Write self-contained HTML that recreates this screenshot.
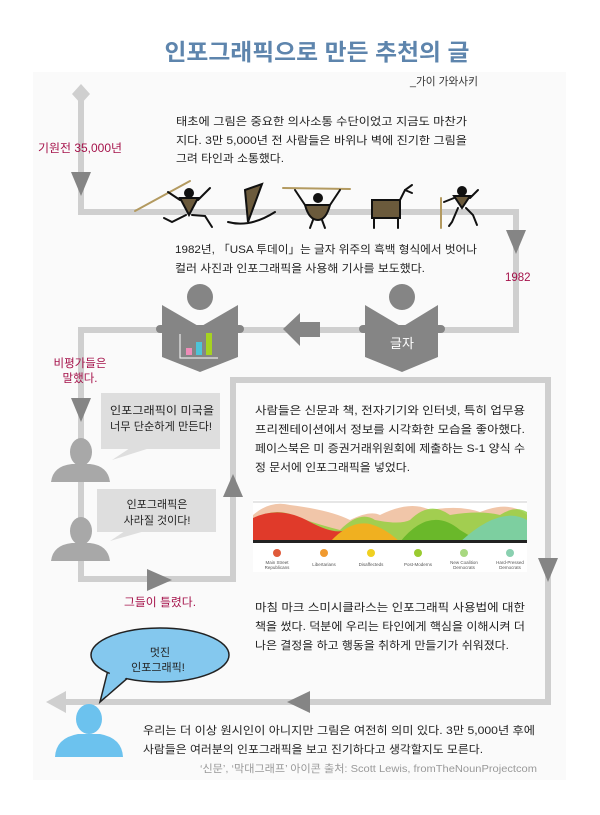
<!DOCTYPE html>
<html><head><meta charset="utf-8"><style>
html,body{margin:0;padding:0;background:#fff;}
svg{display:block;}
text{font-family:"Liberation Sans","Noto Sans CJK KR",sans-serif;}
</style></head><body>
<svg width="600" height="815" viewBox="0 0 600 815" xmlns="http://www.w3.org/2000/svg">
<rect x="33" y="72" width="533" height="708" fill="#fafafa"/>
<text x="317" y="60" text-anchor="middle" font-size="23" font-weight="bold" fill="#5e85ad" textLength="305" lengthAdjust="spacingAndGlyphs">인포그래픽으로 만든 추천의 글</text>
<text x="410" y="85" font-size="11" fill="#333" textLength="68" lengthAdjust="spacingAndGlyphs">_가이 가와사키</text>

<g fill="none" stroke="#cfcfcf" stroke-width="6">
<polyline points="81,92 81,212 516,212 516,330 81,330 81,579 233,579 233,380 548,380 548,702 52,702"/>
</g>
<polygon points="81,84 90,94 81,104 72,94" fill="#cfcfcf"/>
<g fill="#858585">
<polygon points="71,172 91,172 81,196"/>
<polygon points="506,230 526,230 516,254"/>
<polygon points="71,398 91,398 81,422"/>
<polygon points="147,569 147,591 172,580"/>
<polygon points="223,497 243,497 233,474"/>
<polygon points="538,558 558,558 548,582"/>
<polygon points="310,691 310,713 287,702"/>
</g>
<polygon points="66,691 66,713 46,702" fill="#cfcfcf"/>
<polygon points="283,329 300,313 300,322 320,322 320,337 300,337 300,346" fill="#858585"/>

<g font-size="11" fill="#222">
<text x="176" y="125" textLength="291" lengthAdjust="spacingAndGlyphs">태초에 그림은 중요한 의사소통 수단이었고 지금도 마찬가</text>
<text x="176" y="144" textLength="291" lengthAdjust="spacingAndGlyphs">지다. 3만 5,000년 전 사람들은 바위나 벽에 진기한 그림을</text>
<text x="176" y="162" textLength="108" lengthAdjust="spacingAndGlyphs">그려 타인과 소통했다.</text>
<text x="175" y="253" textLength="302" lengthAdjust="spacingAndGlyphs">1982년, 「USA 투데이」는 글자 위주의 흑백 형식에서 벗어나</text>
<text x="175" y="272" textLength="250" lengthAdjust="spacingAndGlyphs">컬러 사진과 인포그래픽을 사용해 기사를 보도했다.</text>
<text x="255" y="414" textLength="270" lengthAdjust="spacingAndGlyphs">사람들은 신문과 책, 전자기기와 인터넷, 특히 업무용</text>
<text x="255" y="433" textLength="270" lengthAdjust="spacingAndGlyphs">프리젠테이션에서 정보를 시각화한 모습을 좋아했다.</text>
<text x="255" y="452" textLength="270" lengthAdjust="spacingAndGlyphs">페이스북은 미 증권거래위원회에 제출하는 S-1 양식 수</text>
<text x="255" y="471" textLength="155" lengthAdjust="spacingAndGlyphs">정 문서에 인포그래픽을 넣었다.</text>
<text x="255" y="611" textLength="270" lengthAdjust="spacingAndGlyphs">마침 마크 스미시클라스는 인포그래픽 사용법에 대한</text>
<text x="255" y="630" textLength="270" lengthAdjust="spacingAndGlyphs">책을 썼다. 덕분에 우리는 타인에게 핵심을 이해시켜 더</text>
<text x="255" y="649" textLength="254" lengthAdjust="spacingAndGlyphs">나은 결정을 하고 행동을 취하게 만들기가 쉬워졌다.</text>
<text x="143" y="734" textLength="392" lengthAdjust="spacingAndGlyphs">우리는 더 이상 원시인이 아니지만 그림은 여전히 의미 있다. 3만 5,000년 후에</text>
<text x="143" y="753" textLength="340" lengthAdjust="spacingAndGlyphs">사람들은 여러분의 인포그래픽을 보고 진기하다고 생각할지도 모른다.</text>
</g>
<text x="200" y="772" font-size="10.5" fill="#999" textLength="337" lengthAdjust="spacingAndGlyphs">‘신문’, ‘막대그래프’ 아이콘 출처: Scott Lewis, fromTheNounProjectcom</text>

<g font-size="11.5" fill="#a5124a">
<text x="38" y="152" textLength="84" lengthAdjust="spacingAndGlyphs">기원전 35,000년</text>
<text x="505" y="281">1982</text>
<text x="80" y="367" text-anchor="middle">비평가들은</text>
<text x="80" y="382" text-anchor="middle">말했다.</text>
<text x="124" y="606" textLength="72" lengthAdjust="spacingAndGlyphs">그들이 틀렸다.</text>
</g>

<!-- figures -->
<g fill="#6b5a3c" stroke="#111" stroke-width="2" stroke-linecap="round">
<line x1="135" y1="211" x2="190" y2="181" stroke="#b39a60" stroke-width="2"/>
<polygon points="180,198 198,198 189,215" />
<circle cx="189" cy="193" r="4" fill="#111"/>
<polyline points="180,200 168,192" fill="none"/><polyline points="198,200 210,188" fill="none"/>
<polyline points="186,215 172,222 164,218" fill="none"/><polyline points="192,215 205,216 212,227" fill="none"/>
<polygon points="245,190 262,184 248,222"/>
<path d="M228,222 Q250,228 275,212" fill="none"/>
<line x1="283" y1="188" x2="350" y2="189" stroke="#b39a60" stroke-width="2"/>
<path d="M305,205 L330,205 Q326,220 318,220 Q309,220 305,205Z"/>
<circle cx="318" cy="198" r="4" fill="#111"/>
<polyline points="305,205 295,190" fill="none"/><polyline points="330,205 340,190" fill="none"/>
<polyline points="313,220 310,228" fill="none"/><polyline points="322,220 325,228" fill="none"/>
<rect x="372" y="200" width="28" height="18"/>
<polyline points="374,218 374,228" fill="none"/><polyline points="398,218 398,228" fill="none"/>
<polyline points="400,200 405,190 412,185" fill="none"/><polyline points="405,190 412,193" fill="none"/>
<line x1="441" y1="198" x2="441" y2="228" stroke="#b39a60" stroke-width="2"/>
<polygon points="454,196 470,196 462,208"/>
<circle cx="462" cy="191" r="4" fill="#111"/>
<polyline points="454,198 444,202" fill="none"/><polyline points="470,198 478,190" fill="none"/>
<polyline points="458,208 452,222 449,226" fill="none"/><polyline points="466,208 473,215 477,225" fill="none"/>
</g>

<!-- books -->
<g fill="#858585">
<circle cx="200" cy="297" r="13"/>
<polygon points="162,305 200,327 238,305 238,357 200,372 162,357"/>
<rect x="156" y="325" width="88" height="8" rx="4"/>
<circle cx="402" cy="297" r="13"/>
<polygon points="365,305 402,327 438,305 438,357 402,372 365,357"/>
<rect x="359" y="325" width="86" height="8" rx="4"/>
</g>
<polyline points="180,334 180,358 218,358" fill="none" stroke="#fff" stroke-width="1"/>
<rect x="186" y="348" width="6" height="7" fill="#f08cb8"/>
<rect x="196" y="342" width="6" height="13" fill="#4ec4d8"/>
<rect x="206" y="333" width="6" height="22" fill="#a6d321"/>
<text x="402" y="348" text-anchor="middle" font-size="13" fill="#fff">글자</text>

<!-- speech bubbles grey -->
<g fill="#dedede">
<rect x="101" y="393" width="119" height="56"/>
<polygon points="130,448 150,448 112,460"/>
<rect x="97" y="489" width="119" height="43"/>
<polygon points="125,531 145,531 110,541"/>
</g>
<g font-size="11" fill="#222">
<text x="110" y="414" textLength="104" lengthAdjust="spacingAndGlyphs">인포그래픽이 미국을</text>
<text x="110" y="430" textLength="102" lengthAdjust="spacingAndGlyphs">너무 단순하게 만든다!</text>
<text x="157" y="508" text-anchor="middle">인포그래픽은</text>
<text x="157" y="524" text-anchor="middle">사라질 것이다!</text>
</g>
<!-- grey persons -->
<g fill="#a8a8a8">
<ellipse cx="81" cy="452" rx="11" ry="14"/>
<path d="M51,482 Q53,466 72,464 L90,464 Q108,466 110,482Z"/>
<ellipse cx="81" cy="531" rx="11" ry="14"/>
<path d="M51,561 Q53,545 72,543 L90,543 Q108,545 110,561Z"/>
</g>

<!-- chart -->
<rect x="253" y="500" width="274" height="72" fill="#fff"/>
<line x1="253" y1="502" x2="527" y2="502" stroke="#ccc"/>
<path d="M253,542 L253,515 Q270,500 290,505 Q330,510 350,520 Q370,510 380,515 Q410,500 430,510 Q460,505 480,512 Q510,500 527,515 L527,542Z" fill="#e8a070" opacity="0.6"/>
<path d="M253,542 L253,520 Q275,505 300,518 Q320,525 340,530 Q360,510 375,520 Q400,525 410,520 Q430,500 450,515 Q480,510 500,515 Q515,505 527,512 L527,542Z" fill="#8fcf3a" opacity="0.8"/>
<path d="M253,542 L253,518 Q280,505 310,522 Q335,535 345,530 L360,542Z" fill="#e03a2a"/>
<path d="M330,542 Q350,520 370,524 Q385,528 400,542Z" fill="#f0b020"/>
<path d="M400,542 Q430,505 460,530 L480,542Z" fill="#6ab82a"/>
<path d="M460,542 Q500,505 527,520 L527,542Z" fill="#7dcfa0"/>
<rect x="253" y="540" width="274" height="3" fill="#222"/>
<g>
<circle cx="277" cy="553" r="4" fill="#e05a3a"/>
<circle cx="324" cy="553" r="4" fill="#f09a30"/>
<circle cx="371" cy="553" r="4" fill="#f0d020"/>
<circle cx="418" cy="553" r="4" fill="#9acb30"/>
<circle cx="464" cy="553" r="4" fill="#a8d880"/>
<circle cx="510" cy="553" r="4" fill="#8ad0b0"/>
</g>
<g font-size="4.5" fill="#555" text-anchor="middle">
<text x="277" y="564">Main Street</text><text x="277" y="569">Republicans</text>
<text x="324" y="566">Libertarians</text>
<text x="371" y="566">Disaffecteds</text>
<text x="418" y="566">Post-Moderns</text>
<text x="464" y="564">New Coalition</text><text x="464" y="569">Democrats</text>
<text x="510" y="564">Hard-Pressed</text><text x="510" y="569">Democrats</text>
</g>

<!-- blue bubble -->
<polygon points="108,670 130,676 100,702" fill="#84c8ee" stroke="#222" stroke-width="1.5"/>
<ellipse cx="160" cy="655" rx="69" ry="27" fill="#84c8ee" stroke="#222" stroke-width="1.5"/>
<polygon points="110,672 128,676 106,696" fill="#84c8ee"/>
<text x="160" y="656" text-anchor="middle" font-size="11" fill="#222">멋진</text>
<text x="158" y="671" text-anchor="middle" font-size="11" fill="#222">인포그래픽!</text>
<g fill="#6cc2ee">
<ellipse cx="89" cy="719" rx="13" ry="15"/>
<path d="M55,757 Q56,738 78,734 L100,734 Q122,738 123,757Z"/>
</g>
</svg>
</body></html>
